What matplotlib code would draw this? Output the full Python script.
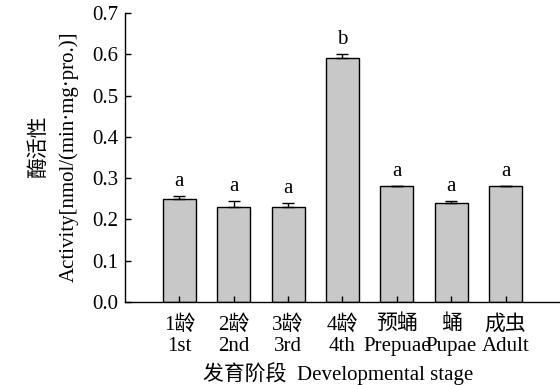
import numpy as np
import matplotlib
matplotlib.use("Agg")
import matplotlib.pyplot as plt

plt.rcParams['font.family'] = ['Liberation Serif', 'Noto Sans CJK SC']
plt.rcParams['axes.unicode_minus'] = False

# data
stages_cn = ['1龄', '2龄', '3龄', '4龄', '预蛹', '蛹', '成虫']
stages_en = ['1st', '2nd', '3rd', '4th', 'Prepuae', 'Pupae', 'Adult']
activity = [0.25, 0.23, 0.23, 0.59, 0.28, 0.24, 0.28]
errors = [0.008, 0.015, 0.011, 0.010, 0.002, 0.005, 0.002]
letters = ['a', 'a', 'a', 'b', 'a', 'a', 'a']

fs = 15

fig = plt.figure(figsize=(5.6, 3.85), dpi=100)
ax = fig.add_axes([0.2232, 0.2156, 0.7768, 0.7504])

x = np.arange(len(activity))
ax.bar(x, activity, width=0.61, color='#c8c8c8', edgecolor='black', linewidth=1.0,
       yerr=[np.zeros(len(errors)), errors], capsize=4,
       error_kw=dict(elinewidth=1.0, capthick=1.0, ecolor='black'))

for xi, v, e, lab in zip(x, activity, errors, letters):
    ax.text(xi, v + e + 0.012, lab, ha='center', va='bottom', fontsize=fs)

ax.set_xlim(-1, 7)
ax.set_ylim(0, 0.7)
ax.set_yticks(np.arange(0, 0.71, 0.1))
ax.set_yticklabels([f'{t:.1f}' for t in np.arange(0, 0.71, 0.1)], fontsize=fs)
ax.set_xticks(x)
ax.set_xticklabels([f'{c}\n{e}' for c, e in zip(stages_cn, stages_en)], fontsize=fs,
                   linespacing=1.2)
ax.tick_params(axis='both', direction='in', length=4, width=1.0)
ax.tick_params(axis='x', pad=9)
ax.tick_params(axis='y', pad=5)

for s in ['top', 'right']:
    ax.spines[s].set_visible(False)
for s in ['left', 'bottom']:
    ax.spines[s].set_linewidth(1.0)

fig.text(0.604, 0.013, '发育阶段  Developmental stage', ha='center', va='baseline', fontsize=fs)
fig.text(0.070, 0.62, '酶活性', rotation=90, ha='center', va='center', fontsize=fs)
fig.text(0.123, 0.592, 'Activity[nmol/(min·mg·pro.)]', rotation=90, ha='center',
         va='center', fontsize=fs)

fig.savefig('out.png', dpi=100, facecolor='white')
